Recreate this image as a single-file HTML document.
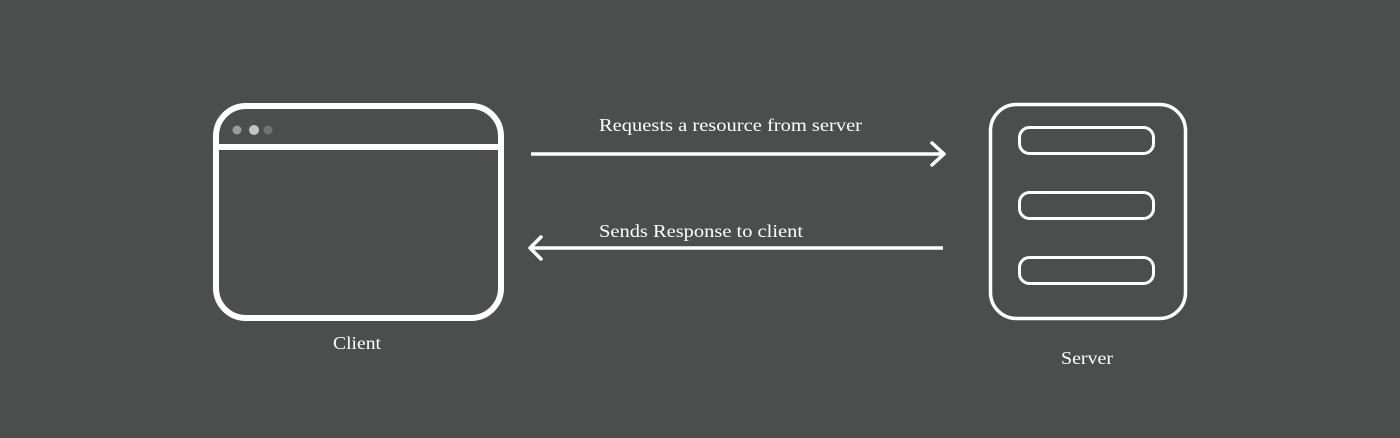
<!DOCTYPE html>
<html><head><style>
html,body{margin:0;padding:0;background:#4a4f4d;}
svg{display:block}
text{font-family:"Liberation Serif",serif;fill:#fff;font-size:18px}
</style></head><body>
<svg width="1400" height="438" viewBox="0 0 1400 438">
<rect width="1400" height="438" fill="#4a4f4d"/>
<g fill="none" stroke="#fff" stroke-linecap="round" stroke-linejoin="round">
<rect x="216" y="106" width="285" height="212" rx="30" stroke-width="6"/>
<line x1="216" y1="147" x2="501" y2="147" stroke-width="6"/>
<rect x="990.5" y="104.5" width="195" height="214" rx="26" stroke-width="3.5"/>
<rect x="1019.5" y="127.5" width="134" height="26" rx="10" stroke-width="3"/>
<rect x="1019.5" y="192.5" width="134" height="26" rx="10" stroke-width="3"/>
<rect x="1019.5" y="257.5" width="134" height="26" rx="10" stroke-width="3"/>
<line x1="531" y1="154" x2="943" y2="154" stroke-width="3.5" stroke-linecap="butt"/>
<polyline points="932,143 944,154 932,165" stroke-width="3.5"/>
<line x1="531" y1="248" x2="943" y2="248" stroke-width="3.5" stroke-linecap="butt"/>
<polyline points="541,237 530,248 541,259" stroke-width="3.5"/>
</g>
<circle cx="237" cy="130" r="4.5" fill="#9a9d9b"/>
<circle cx="254" cy="130" r="5" fill="#c4c6c4"/>
<circle cx="268" cy="130" r="4.5" fill="#6e7370"/>
<text x="599" y="131" textLength="263" lengthAdjust="spacingAndGlyphs">Requests a resource from server</text>
<text x="599" y="237" textLength="204" lengthAdjust="spacingAndGlyphs">Sends Response to client</text>
<text x="333" y="349" textLength="48" lengthAdjust="spacingAndGlyphs">Client</text>
<text x="1061" y="364" textLength="52" lengthAdjust="spacingAndGlyphs">Server</text>
</svg>
</body></html>
